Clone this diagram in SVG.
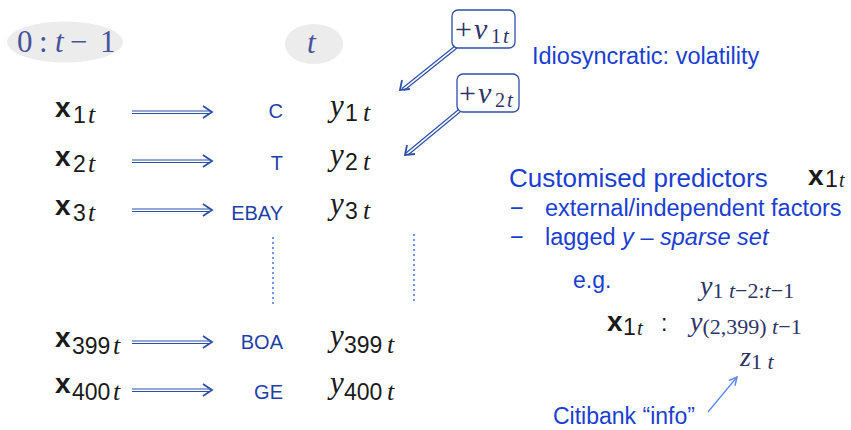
<svg xmlns="http://www.w3.org/2000/svg" width="851" height="430" viewBox="0 0 851 430">
  <style>
    .bg { fill: #ffffff; }
    .hdr { fill: #ececec; }
    .hdrtxt { font-family: "Liberation Serif", serif; font-size: 31px; fill: #46549c; }
    .xv { font-family: "Liberation Sans", sans-serif; font-weight: bold; font-size: 28px; fill: #1a1a1a; }
    .sub { font-family: "Liberation Sans", sans-serif; font-size: 23px; font-weight: normal; font-style: normal; }
    .it { font-family: "Liberation Serif", serif; font-style: italic; font-weight: normal; }
    .st { font-family: "Liberation Serif", serif; font-style: italic; font-weight: normal; font-size: 26px; }
    .yv { font-family: "Liberation Serif", serif; font-style: italic; font-size: 31px; fill: #1a1a1a; }
    .tick { font-family: "Liberation Sans", sans-serif; font-size: 20px; fill: #1f3fa8; text-anchor: end; }
    .blue { font-family: "Liberation Sans", sans-serif; fill: #1a3ed2; }
    .math { font-family: "Liberation Serif", serif; fill: #2d3468; }
    .dbl { fill: none; stroke: #2c4fa8; stroke-width: 1.2; }
    .head { fill: none; stroke: #2c4fa8; stroke-width: 1.8; }
    .dot { stroke: #6f93f2; stroke-width: 2; stroke-dasharray: 2 3; }
    .box { fill: #ffffff; stroke: #2c4fa8; stroke-width: 1.3; }
  </style>
  <defs>
    <marker id="chevLight" viewBox="0 0 10 10" refX="9" refY="5" markerWidth="10" markerHeight="10" markerUnits="userSpaceOnUse" orient="auto">
      <path d="M1,1 L9,5 L1,9" fill="none" stroke="#5b87ee" stroke-width="1.5"/>
    </marker>
  </defs>
  <rect class="bg" x="0" y="0" width="851" height="430"/>

  <!-- time headers -->
  <g id="hdr-past">
    <ellipse class="hdr" cx="65" cy="42" rx="58" ry="20.5"/>
    <text class="hdrtxt" y="52"><tspan x="17">0</tspan><tspan x="39">:</tspan><tspan class="it" x="55">t</tspan><tspan x="70">−</tspan><tspan x="100">1</tspan></text>
  </g>
  <g id="hdr-now">
    <ellipse class="hdr" cx="314" cy="44" rx="29" ry="20"/>
    <text class="hdrtxt" x="307" y="53"><tspan class="it">t</tspan></text>
  </g>

  <!-- predictor rows -->
  <g id="x1"><text class="xv" x="55" y="117">x<tspan class="sub" x="73" dy="6">1</tspan><tspan class="st" x="88">t</tspan></text></g>
  <g id="x2"><text class="xv" x="55" y="166">x<tspan class="sub" x="73" dy="6">2</tspan><tspan class="st" x="88">t</tspan></text></g>
  <g id="x3"><text class="xv" x="55" y="215">x<tspan class="sub" x="73" dy="6">3</tspan><tspan class="st" x="88">t</tspan></text></g>
  <g id="x399"><text class="xv" x="55" y="347">x<tspan class="sub" x="72" dy="7">399</tspan><tspan class="st" x="113">t</tspan></text></g>
  <g id="x400"><text class="xv" x="55" y="393">x<tspan class="sub" x="72" dy="7">400</tspan><tspan class="st" x="113">t</tspan></text></g>

  <!-- tickers -->
  <g id="tk-c"><text class="tick" x="283" y="118">C</text></g>
  <g id="tk-t"><text class="tick" x="283" y="170">T</text></g>
  <g id="tk-ebay"><text class="tick" x="283" y="220">EBAY</text></g>
  <g id="tk-boa"><text class="tick" x="283" y="349">BOA</text></g>
  <g id="tk-ge"><text class="tick" x="283" y="399">GE</text></g>

  <!-- response rows -->
  <g id="y1"><text class="yv" x="330" y="116">y<tspan class="sub" x="345" dy="5">1</tspan><tspan class="st" x="363">t</tspan></text></g>
  <g id="y2"><text class="yv" x="330" y="165">y<tspan class="sub" x="345" dy="5">2</tspan><tspan class="st" x="363">t</tspan></text></g>
  <g id="y3"><text class="yv" x="330" y="214">y<tspan class="sub" x="345" dy="5">3</tspan><tspan class="st" x="363">t</tspan></text></g>
  <g id="y399"><text class="yv" x="330" y="346">y<tspan class="sub" x="344" dy="7">399</tspan><tspan class="st" x="387">t</tspan></text></g>
  <g id="y400"><text class="yv" x="330" y="393">y<tspan class="sub" x="344" dy="7">400</tspan><tspan class="st" x="387">t</tspan></text></g>

  <!-- noise boxes -->
  <g id="nu1">
    <rect class="box" x="452" y="10" width="63" height="38" rx="6"/>
    <text class="math" x="455" y="39" font-size="30" fill="#1a1a1a">+<tspan class="it" x="474">ν</tspan><tspan font-size="20" x="491" dy="4">1</tspan><tspan class="it" font-size="21" x="503">t</tspan></text>
  </g>
  <g id="nu2">
    <rect class="box" x="457" y="74" width="62" height="38" rx="6"/>
    <text class="math" x="459" y="103" font-size="30" fill="#1a1a1a">+<tspan class="it" x="478">ν</tspan><tspan font-size="20" x="495" dy="4">2</tspan><tspan class="it" font-size="21" x="507">t</tspan></text>
  </g>

  <!-- connectors -->
  <g id="connectors">
    <g class="dbl">
      <path d="M132,111 H210 M132,113.5 H210"/>
      <path d="M132,160 H210 M132,162.5 H210"/>
      <path d="M132,209 H210 M132,211.5 H210"/>
      <path d="M132,341 H210 M132,343.5 H210"/>
      <path d="M132,389 H210 M132,391.5 H210"/>
      <path d="M455,46 L402,88.5 M457,48 L404,90.5"/>
      <path d="M458,110 L406,153 M460,112 L408,155"/>
    </g>
    <g class="head">
      <path d="M203,106 L212,112 L203,118"/>
      <path d="M203,155 L212,161 L203,167"/>
      <path d="M203,204 L212,210 L203,216"/>
      <path d="M203,336 L212,342 L203,348"/>
      <path d="M203,384 L212,390 L203,396"/>
      <path d="M402,80 L400,90 L410,89"/>
      <path d="M407,145 L405,155 L415,154"/>
    </g>
    <line class="dot" x1="273" y1="237" x2="273" y2="306"/>
    <line class="dot" x1="414" y1="234" x2="414" y2="304"/>
    <line x1="708" y1="412" x2="737" y2="377" stroke="#5b87ee" stroke-width="1.3" marker-end="url(#chevLight)"/>
  </g>

  <!-- annotations -->
  <g id="note-idio"><text class="blue" x="532" y="64" font-size="23.5">Idiosyncratic: volatility</text></g>
  <g id="note-pred">
    <text class="blue" x="509" y="187" font-size="26">Customised predictors</text>
    <text class="xv" x="808" y="185" font-size="26">x<tspan class="sub" font-size="18" x="825" dy="2">1</tspan><tspan class="it" font-size="20" x="839">t</tspan></text>
    <text class="blue" x="510" y="216" font-size="23.5">−</text>
    <text class="blue" x="545" y="216" font-size="23.5">external/independent factors</text>
    <text class="blue" x="510" y="245" font-size="23.5">−</text>
    <text class="blue" x="545" y="245" font-size="23.5">lagged <tspan font-style="italic">y</tspan> – <tspan font-style="italic">sparse set</tspan></text>
  </g>
  <g id="example">
    <text class="blue" x="573" y="288" font-size="23">e.g.</text>
    <text class="math" x="700" y="295" font-size="28"><tspan class="it">y</tspan><tspan font-size="22" dy="3">1 </tspan><tspan class="it" font-size="22">t</tspan><tspan font-size="22">−2:</tspan><tspan class="it" font-size="22">t</tspan><tspan font-size="22">−1</tspan></text>
    <text class="xv" x="607" y="331" font-size="25" fill="#2d3468">x<tspan class="sub" font-size="19" x="623" dy="4">1</tspan><tspan class="it" font-size="21" x="637">t</tspan><tspan class="sub" font-size="24" x="661" dy="-4">:</tspan></text>
    <text class="math" x="690" y="331" font-size="28"><tspan class="it">y</tspan><tspan font-size="22" dy="3">(2,399) </tspan><tspan class="it" font-size="22">t</tspan><tspan font-size="22">−1</tspan></text>
    <text class="math" x="740" y="366" font-size="28"><tspan class="it">z</tspan><tspan font-size="22" dy="3">1 </tspan><tspan class="it" font-size="22">t</tspan></text>
    <text class="blue" x="553" y="424" font-size="23">Citibank “info”</text>
  </g>
</svg>
